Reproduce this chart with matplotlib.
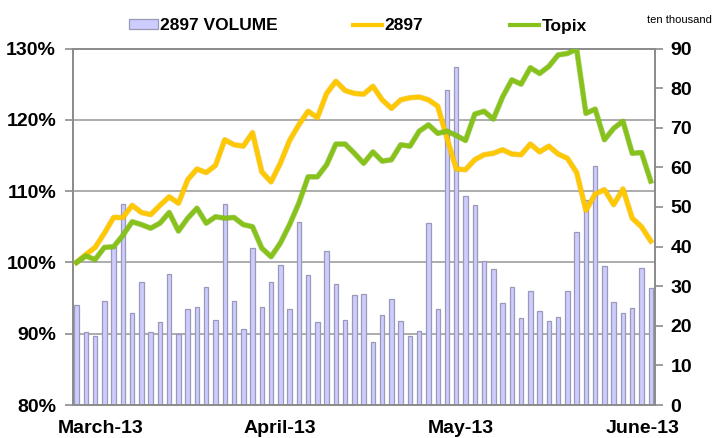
import matplotlib
matplotlib.use("Agg")
import matplotlib.pyplot as plt
import numpy as np
from matplotlib.ticker import FixedLocator, FuncFormatter
from matplotlib.patches import Patch
from matplotlib.lines import Line2D
import matplotlib.patheffects as pe

# ---------------- data ----------------
volume = [25.3, 18.4, 17.5, 26.3, 40.0, 50.7, 23.3, 31.1, 18.5, 21.0,
          33.1, 17.8, 24.2, 24.7, 29.7, 21.5, 50.8, 26.3, 19.2, 39.7,
          24.8, 31.1, 35.4, 24.2, 46.3, 32.7, 20.9, 38.9, 30.6, 21.5,
          27.7, 28.1, 16.0, 22.7, 26.7, 21.1, 17.3, 18.7, 46.0, 24.2,
          79.4, 85.4, 52.7, 50.6, 36.4, 34.4, 25.8, 29.7, 22.0, 28.8,
          23.7, 21.3, 22.2, 28.8, 43.8, 51.8, 60.3, 35.1, 26.0, 23.1,
          24.6, 34.6, 29.5]

stock_2897 = [100.0, 101.1, 102.1, 104.1, 106.3, 106.3, 108.0, 107.0, 106.7, 108.0,
              109.2, 108.3, 111.6, 113.1, 112.6, 113.6, 117.2, 116.5, 116.3, 118.2,
              112.7, 111.3, 113.9, 117.1, 119.3, 121.2, 120.3, 123.7, 125.4, 124.1,
              123.7, 123.6, 124.7, 122.8, 121.6, 122.8, 123.1, 123.2, 122.8, 121.9,
              117.4, 113.1, 113.0, 114.4, 115.1, 115.3, 115.8, 115.2, 115.1, 116.6,
              115.5, 116.3, 115.2, 114.6, 112.6, 107.3, 109.6, 110.2, 108.1, 110.3,
              106.2, 105.0, 103.0]

topix = [100.0, 100.9, 100.4, 102.1, 102.2, 103.8, 105.7, 105.3, 104.8, 105.5,
         107.0, 104.4, 106.2, 107.6, 105.5, 106.4, 106.2, 106.3, 105.3, 105.0,
         102.0, 100.8, 102.7, 105.3, 108.3, 112.0, 112.0, 113.7, 116.6, 116.6,
         115.3, 113.9, 115.5, 114.2, 114.4, 116.5, 116.3, 118.4, 119.3, 118.1,
         118.4, 117.8, 117.1, 120.8, 121.2, 120.1, 123.2, 125.6, 125.0, 127.3,
         126.5, 127.5, 129.1, 129.3, 129.9, 120.9, 121.5, 117.2, 118.8, 119.8,
         115.3, 115.4, 111.4]

month_labels = ["March-13", "April-13", "May-13", "June-13"]
series_labels = ["2897 VOLUME", "2897", "Topix"]
unit_label = "ten thousand"
pct_ticks = [80, 90, 100, 110, 120, 130]
vol_ticks = [0, 10, 20, 30, 40, 50, 60, 70, 80, 90]

# ---------------- style ----------------
plt.rcParams['font.family'] = ['Liberation Sans', 'DejaVu Sans']
plt.rcParams['font.weight'] = 'bold'
TXT = 14
LEG = 12.5
BAR_FACE = '#CCCCFF'
BAR_EDGE = '#9A9AB8'
YELLOW = '#FFC800'
YELLOW_EDGE = '#E9B200'
GREEN = '#86C21A'
GREEN_EDGE = '#73AD10'
GRID = '#A6A6A6'
SPINE = '#8C8C8C'

W, H = 717, 438
fig = plt.figure(figsize=(W / 100, H / 100), dpi=100)
ax1 = fig.add_axes([72.7 / W, 1 - 405 / H, (655 - 72.7) / W, (405 - 48.5) / H])
ax2 = ax1.twinx()

x = np.arange(len(volume))

# bars on volume axis (behind)
ax2.bar(x, volume, width=0.48, color=BAR_FACE, edgecolor=BAR_EDGE, linewidth=0.9, zorder=2)
ax2.set_ylim(0, 90)
ax2.set_yticks(vol_ticks)
ax2.yaxis.set_minor_locator(FixedLocator(np.linspace(0, 90, len(pct_ticks))))
ax2.grid(which='minor', axis='y', color=GRID, linewidth=1.3, zorder=0)
ax2.set_axisbelow(True)
ax2.tick_params(axis='y', which='minor', length=0)
ax2.tick_params(axis='y', which='major', direction='out', length=6, width=1.2,
                color=SPINE, labelsize=TXT, pad=5)

# lines on percent axis (front)
ax1.set_zorder(3)
ax1.patch.set_visible(False)
ax1.plot(x, stock_2897, color=YELLOW, lw=3.0, solid_joinstyle='round', zorder=4,
         path_effects=[pe.Stroke(linewidth=4.0, foreground=YELLOW_EDGE, alpha=0.6), pe.Normal()])
ax1.plot(x, topix, color=GREEN, lw=3.0, solid_joinstyle='round', zorder=5,
         path_effects=[pe.Stroke(linewidth=4.0, foreground=GREEN_EDGE, alpha=0.6), pe.Normal()])
ax1.set_ylim(80, 130)
ax1.set_yticks(pct_ticks)
ax1.yaxis.set_major_formatter(FuncFormatter(lambda v, p: f"{v:.0f}%"))
ax1.tick_params(axis='y', direction='out', length=6, width=1.2, color=SPINE,
                labelsize=TXT, pad=6)
ax1.set_xlim(-0.42, len(volume) - 1 + 0.46)
month_pos = [2.6, 22.0, 41.5, 61.1]
ax1.set_xticks(month_pos)
ax1.set_xticklabels(month_labels)
ax1.tick_params(axis='x', length=0, labelsize=TXT, pad=11)

for a in (ax1, ax2):
    for s in a.spines.values():
        s.set_color(SPINE)
        s.set_linewidth(1.3)

# legend: one entry per legend box, placed along the top
handles = [Patch(facecolor=BAR_FACE, edgecolor=BAR_EDGE, linewidth=0.9),
           Line2D([], [], color=YELLOW, lw=3),
           Line2D([], [], color=GREEN, lw=3)]
leg_x = [129, 353, 510]
for h, lab, lx in zip(handles, series_labels, leg_x):
    fig.legend([h], [lab], loc='center left', bbox_to_anchor=(lx / W, 1 - 26 / H),
               frameon=False, fontsize=LEG, handlelength=1.65, handleheight=0.5,
               handletextpad=0.15, borderaxespad=0, borderpad=0)

fig.text(712 / W, 1 - 20 / H, unit_label, ha='right', va='center', fontsize=8,
         fontweight='normal')

fig.savefig("out.png", dpi=100)
